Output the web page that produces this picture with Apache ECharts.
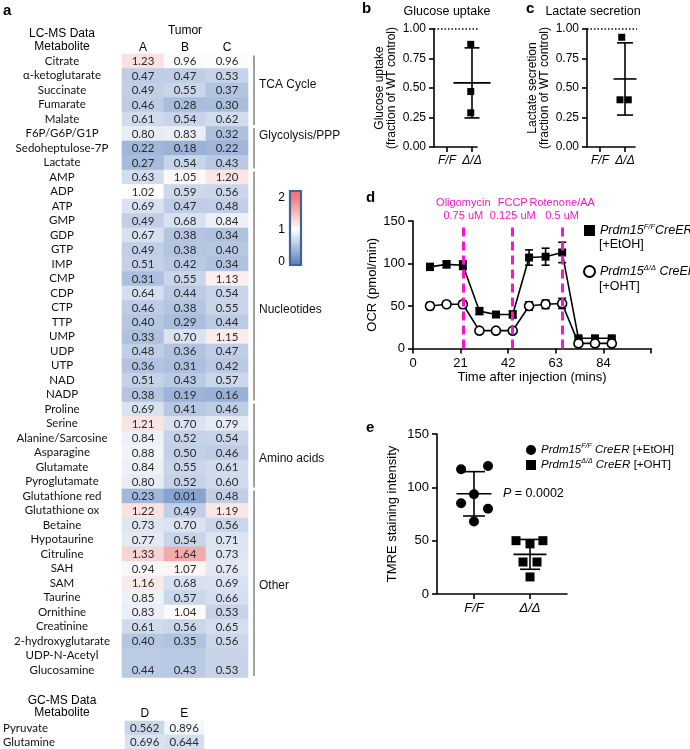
<!DOCTYPE html>
<html>
<head>
<meta charset="utf-8">
<script src="https://cdn.jsdelivr.net/npm/echarts@6/dist/echarts.min.js"></script>
<style>
  html, body { margin: 0; padding: 0; background: #fff; }
  #chart { width: 690px; height: 749px; }
</style>
</head>
<body>
<div id="chart"></div>
<script>
// ---- panel a: LC-MS heatmap ----
const metabolites = ['Citrate', 'α-ketoglutarate', 'Succinate', 'Fumarate', 'Malate',
  'F6P/G6P/G1P', 'Sedoheptulose-7P', 'Lactate',
  'AMP', 'ADP', 'ATP', 'GMP', 'GDP', 'GTP', 'IMP', 'CMP', 'CDP', 'CTP', 'TTP', 'UMP', 'UDP', 'UTP', 'NAD', 'NADP',
  'Proline', 'Serine', 'Alanine/Sarcosine', 'Asparagine', 'Glutamate', 'Pyroglutamate',
  'Glutathione red', 'Glutathione ox', 'Betaine', 'Hypotaurine', 'Citruline', 'SAH', 'SAM', 'Taurine',
  'Ornithine', 'Creatinine', '2-hydroxyglutarate', 'UDP-N-Acetyl', 'Glucosamine'];
const tumors = ['A', 'B', 'C'];
const tumorA = [1.23, 0.47, 0.49, 0.46, 0.61, 0.80, 0.22, 0.27, 0.63, 1.02, 0.69, 0.49, 0.67, 0.49, 0.51, 0.31,
  0.64, 0.46, 0.40, 0.33, 0.48, 0.36, 0.51, 0.38, 0.69, 1.21, 0.84, 0.88, 0.84, 0.80, 0.23, 1.22, 0.73, 0.77,
  1.33, 0.94, 1.16, 0.85, 0.83, 0.61, 0.40, null, 0.44];
const tumorB = [0.96, 0.47, 0.55, 0.28, 0.54, 0.83, 0.18, 0.54, 1.05, 0.59, 0.47, 0.68, 0.38, 0.38, 0.42, 0.55,
  0.44, 0.38, 0.29, 0.70, 0.36, 0.31, 0.43, 0.19, 0.41, 0.70, 0.52, 0.50, 0.55, 0.52, 0.01, 0.49, 0.70, 0.54,
  1.64, 1.07, 0.68, 0.57, 1.04, 0.56, 0.35, null, 0.43];
const tumorC = [0.96, 0.53, 0.37, 0.30, 0.62, 0.32, 0.22, 0.43, 1.20, 0.56, 0.48, 0.84, 0.34, 0.40, 0.34, 1.13,
  0.54, 0.55, 0.44, 1.15, 0.47, 0.42, 0.57, 0.16, 0.46, 0.79, 0.54, 0.46, 0.61, 0.60, 0.48, 1.19, 0.56, 0.71,
  0.73, 0.76, 0.69, 0.66, 0.53, 0.65, 0.56, null, 0.53];
const doubleRow = 'Glucosamine'; // cell spans the 'UDP-N-Acetyl' line above it

const groupNames = ['TCA Cycle', 'Glycolysis/PPP', 'Nucleotides', 'Amino acids', 'Other'];
const groupFirstRow = [0, 5, 8, 24, 30];
const groupLastRow = [4, 7, 23, 29, 42];
const groupLabelRow = [1.65, 5.1, 17.1, 27.4, 36.2];

const colorbarTicks = [0, 1, 2];

// GC-MS table
const gcMetabolites = ['Pyruvate', 'Glutamine'];
const gcSamples = ['D', 'E'];
const gcD = [0.562, 0.696];
const gcE = [0.896, 0.644];

// ---- panels b, c ----
const genotypes = ['F/F', 'Δ/Δ'];
const glucoseUptake = [0.87, 0.47, 0.29];
const glucoseX = [1.95, 1.95, 1.95];
const lactateSecretion = [0.93, 0.40, 0.40];
const lactateX = [1.87, 1.80, 2.13];

// ---- panel d: OCR ----
const ocrTime = [7.5, 14.8, 22, 29.3, 36.6, 44, 51.2, 58.5, 65.8, 73, 80.3, 87.7];
const ocrFF = [96, 99, 98, 44, 40, 40, 107, 108, 113, 12, 12, 12];
const ocrFFErr = [4, 4, 5, 4, 3, 4, 9, 10, 12, 2, 2, 2];
const ocrDD = [50, 52, 52, 21, 21, 21, 50, 52, 53, 6, 6, 6];
const ocrDDErr = [4, 3, 4, 2, 2, 2, 5, 5, 6, 1, 1, 1];
const injectionNames = ['Oligomycin\n0.75 uM', 'FCCP\n0.125 uM', 'Rotenone/AA\n0.5 uM'];
const injectionTime = [22.2, 44, 65.8];

// ---- panel e: TMRE ----
const tmreFF = [117, 120, 93.5, 85, 80, 68];
const tmreFFX = [0.77, 1.25, 1, 0.77, 1.25, 1];
const tmreDD = [50, 47, 50, 30, 30, 16];
const tmreDDX = [1.75, 2, 2.23, 1.875, 2.125, 2];

const FONT = '"Liberation Sans", Arial, sans-serif';
const CELL_FONT = 'Lato, "Open Sans", sans-serif';
const MAGENTA = '#ff12cc';

const mean = a => a.reduce((s, v) => s + v, 0) / a.length;
const sd = a => { const m = mean(a); return Math.sqrt(a.reduce((s, v) => s + (v - m) ** 2, 0) / (a.length - 1)); };
const meanSd = (x, a) => [x, mean(a), mean(a) - sd(a), mean(a) + sd(a)];

const lcCells = [];
[tumorA, tumorB, tumorC].forEach((vals, col) => {
  vals.forEach((v, row) => {
    if (v != null) lcCells.push([col, row, v, metabolites[row] === doubleRow ? 2 : 1]);
  });
});
const gcCells = [];
[gcD, gcE].forEach((vals, col) => vals.forEach((v, row) => gcCells.push([col, row, v, 1])));

function heatCell(digits) {
  return function (params, api) {
    const c = api.coord([api.value(0), api.value(1)]);
    const band = api.size([1, 1]);
    const span = api.value(3);
    const bottom = c[1] + band[1] / 2;
    const color = api.visual('color');
    return {
      type: 'group',
      children: [
        { type: 'rect', shape: { x: c[0] - band[0] / 2, y: bottom - band[1] * span, width: band[0], height: band[1] * span },
          style: { fill: color, stroke: color, lineWidth: 0.6 } },
        { type: 'text', x: c[0], y: c[1] + 0.5,
          style: { text: api.value(2).toFixed(digits), align: 'center', verticalAlign: 'middle',
                   fill: '#2b2b2b', fontSize: 11.5, fontFamily: CELL_FONT } }
      ]
    };
  };
}

function bracketItem(params, api) {
  const band = api.size([1, 1]);
  const top = api.coord([2, api.value(1)]);
  const bot = api.coord([2, api.value(2)]);
  const x = top[0] + band[0] / 2 + 6;
  const labelY = api.coord([2, 0])[1] + api.value(3) * band[1];
  return {
    type: 'group',
    children: [
      { type: 'line', shape: { x1: x, y1: top[1] - band[1] / 2 + 1.5, x2: x, y2: bot[1] + band[1] / 2 - 1.5 },
        style: { stroke: '#8a8a8a', lineWidth: 1.6 } },
      { type: 'text', x: x + 5, y: labelY,
        style: { text: groupNames[params.dataIndex], align: 'left', verticalAlign: 'middle',
                 fill: '#111', fontSize: 12, fontFamily: FONT } }
    ]
  };
}

function colorbarItem(params, api) {
  const cs = params.coordSys;
  const pos = v => (api.coord([0, v])[1] - cs.y) / cs.height;
  return {
    type: 'rect',
    shape: { x: cs.x, y: cs.y, width: cs.width, height: cs.height },
    style: {
      fill: new echarts.graphic.LinearGradient(0, 0, 0, 1, [
        { offset: Math.max(0, pos(2)), color: '#f47676' },
        { offset: pos(1), color: '#ffffff' },
        { offset: Math.min(1, pos(0)), color: '#6486bc' }
      ]),
      stroke: '#3f6497', lineWidth: 2.2
    }
  };
}

// vertical whisker [x, mid, lo, hi] with caps and optional mean line
function whisker(capHalf, meanHalf) {
  return function (params, api) {
    const x = api.value(0);
    const mid = api.coord([x, api.value(1)]);
    const lo = api.coord([x, api.value(2)]);
    const hi = api.coord([x, api.value(3)]);
    const style = { stroke: '#000', lineWidth: 1.6 };
    const children = [
      { type: 'line', shape: { x1: mid[0], y1: hi[1], x2: mid[0], y2: lo[1] }, style },
      { type: 'line', shape: { x1: mid[0] - capHalf, y1: hi[1], x2: mid[0] + capHalf, y2: hi[1] }, style },
      { type: 'line', shape: { x1: mid[0] - capHalf, y1: lo[1], x2: mid[0] + capHalf, y2: lo[1] }, style }
    ];
    if (meanHalf) {
      children.push({ type: 'line', shape: { x1: mid[0] - meanHalf, y1: mid[1], x2: mid[0] + meanHalf, y2: mid[1] }, style });
    }
    return { type: 'group', children };
  };
}

const axisBase = (fontSize) => ({
  axisLine: { show: true, lineStyle: { color: '#000', width: 1.6 } },
  axisTick: { show: true, length: 5, lineStyle: { color: '#000', width: 1.6 } },
  axisLabel: { color: '#000', fontFamily: FONT, fontSize },
  splitLine: { show: false }
});
const hiddenAxis = { axisLine: { show: false }, axisTick: { show: false }, splitLine: { show: false } };

const groupX = (gridIndex, min, max, fontSize) => ({
  gridIndex, type: 'value', min, max, ...axisBase(fontSize),
  axisTick: { show: true, length: 5, lineStyle: { color: '#000', width: 1.6 }, customValues: [1, 2] },
  axisLabel: { color: '#000', fontFamily: FONT, fontSize, fontStyle: 'italic', customValues: [1, 2],
               formatter: v => genotypes[Math.round(v) - 1] }
});

const sup = { fontFamily: FONT, fontStyle: 'italic', fontSize: 7.5, verticalAlign: 'top', color: '#000' };
const legendD = {
  dFF: '{i|Prdm15}{s|F/F}{i|CreER}',
  dDD: '{i|Prdm15}{s|Δ/Δ}{i| CreER}'
};
const legendE = {
  eFF: '{i|Prdm15}{s|F/F}{i| CreER} {n|[+EtOH]}',
  eDD: '{i|Prdm15}{s|Δ/Δ}{i| CreER} {n|[+OHT]}'
};
const solid = { color: '#000', opacity: 1 };

function label(text, x, y, opts = {}) {
  return {
    type: 'text', x, y, silent: true,
    style: Object.assign({
      text, fill: '#000', fontFamily: FONT, fontSize: 12,
      align: 'center', verticalAlign: 'middle', textAlign: 'center', textVerticalAlign: 'middle'
    }, opts)
  };
}
const letter = (t, x, y) => label(t, x, y, { fontWeight: 'bold', fontSize: 15, align: 'left', textAlign: 'left' });

const chart = echarts.init(document.getElementById('chart'));
chart.setOption({
  animation: false,
  backgroundColor: '#fff',
  grid: [
    { left: 122, top: 54, width: 126, height: 623.5 },
    { left: 290, top: 191, width: 11, height: 74 },
    { left: 124, top: 721, width: 80, height: 28 },
    { left: 434, top: 29, width: 43, height: 118 },
    { left: 587, top: 29, width: 48, height: 118 },
    { left: 413, top: 221, width: 238, height: 127.5 },
    { left: 437, top: 434, width: 130, height: 160 }
  ],
  visualMap: {
    show: false, type: 'continuous', min: 0, max: 2, dimension: 2, seriesIndex: [0, 2],
    inRange: { color: ['#86a2cf', '#ffffff', '#e97b7b'] }
  },
  xAxis: [
    { gridIndex: 0, type: 'category', data: tumors, position: 'top', ...hiddenAxis,
      axisLabel: { margin: 0, color: '#000', fontFamily: FONT, fontSize: 12 },
      name: 'Tumor', nameLocation: 'middle', nameGap: 6, nameTextStyle: { color: '#000', fontFamily: FONT, fontSize: 12 } },
    { gridIndex: 1, type: 'value', min: 0, max: 1, show: false },
    { gridIndex: 2, type: 'category', data: gcSamples, position: 'top', ...hiddenAxis,
      axisLabel: { margin: 1, color: '#000', fontFamily: FONT, fontSize: 12 } },
    groupX(3, 0.48, 2.2, 12),
    groupX(4, 0.48, 2.4, 12),
    { gridIndex: 5, type: 'value', min: 0, max: 105, interval: 21, ...axisBase(13),
      axisLabel: { color: '#000', fontFamily: FONT, fontSize: 13, formatter: v => (v === 105 ? '' : v) },
      name: 'Time after injection (mins)', nameLocation: 'middle', nameGap: 22,
      nameTextStyle: { color: '#000', fontFamily: FONT, fontSize: 13 } },
    groupX(6, 0.34, 2.66, 13)
  ],
  yAxis: [
    { gridIndex: 0, type: 'category', data: metabolites, inverse: true, ...hiddenAxis,
      axisLabel: { interval: 0, align: 'center', margin: 60, color: '#111', fontFamily: CELL_FONT, fontSize: 11.5 } },
    { gridIndex: 1, type: 'value', min: -0.1, max: 2.2, ...hiddenAxis,
      axisLabel: { customValues: colorbarTicks, margin: 5, color: '#000', fontFamily: FONT, fontSize: 12 } },
    { gridIndex: 2, type: 'category', data: gcMetabolites, inverse: true, ...hiddenAxis,
      axisLabel: { interval: 0, align: 'left', margin: 122, color: '#111', fontFamily: CELL_FONT, fontSize: 11.5 } },
    { gridIndex: 3, type: 'value', min: 0, max: 1, interval: 0.25, ...axisBase(12),
      axisLabel: { color: '#000', fontFamily: FONT, fontSize: 12, formatter: v => v.toFixed(2) },
      name: 'Glucose uptake\n(fraction of WT control)', nameLocation: 'middle', nameGap: 36,
      nameTextStyle: { color: '#000', fontFamily: FONT, fontSize: 12, lineHeight: 12 } },
    { gridIndex: 4, type: 'value', min: 0, max: 1, interval: 0.25, ...axisBase(12),
      axisLabel: { color: '#000', fontFamily: FONT, fontSize: 12, formatter: v => v.toFixed(2) },
      name: 'Lactate secretion\n(fraction of WT control)', nameLocation: 'middle', nameGap: 36,
      nameTextStyle: { color: '#000', fontFamily: FONT, fontSize: 12, lineHeight: 12 } },
    { gridIndex: 5, type: 'value', min: 0, max: 150, interval: 50, ...axisBase(13),
      name: 'OCR (pmol/min)', nameLocation: 'middle', nameGap: 33,
      nameTextStyle: { color: '#000', fontFamily: FONT, fontSize: 13 } },
    { gridIndex: 6, type: 'value', min: 0, max: 150, interval: 50, ...axisBase(13),
      name: 'TMRE staining intensity', nameLocation: 'middle', nameGap: 38,
      nameTextStyle: { color: '#000', fontFamily: FONT, fontSize: 13 } }
  ],
  legend: [
    { left: 578, top: 218, orient: 'vertical', itemWidth: 11, itemHeight: 11, itemGap: 27, selectedMode: false,
      data: [{ name: 'dFF', icon: 'rect' }, { name: 'dDD', icon: 'circle' }],
      formatter: n => legendD[n],
      textStyle: { rich: { i: { fontFamily: FONT, fontStyle: 'italic', fontSize: 12.5, color: '#000', lineHeight: 15 }, s: sup } } },
    { left: 521, top: 438, orient: 'vertical', itemWidth: 10, itemHeight: 10, itemGap: 2, selectedMode: false,
      data: [{ name: 'eFF', icon: 'circle' }, { name: 'eDD', icon: 'rect' }],
      formatter: n => legendE[n],
      textStyle: { rich: {
        i: { fontFamily: FONT, fontStyle: 'italic', fontSize: 11.5, color: '#000', lineHeight: 14 },
        n: { fontFamily: FONT, fontSize: 11.5, color: '#000', lineHeight: 14 },
        s: Object.assign({}, sup, { fontSize: 7 }) } } }
  ],
  graphic: [
    letter('a', 3, 11), letter('b', 362, 9), letter('c', 526, 9), letter('d', 366, 198), letter('e', 366, 428),
    label('LC-MS Data', 62, 34), label('Metabolite', 62, 47),
    label('GC-MS Data', 62, 701), label('Metabolite', 62, 713),
    label('Glucose uptake', 447, 12, { fontSize: 12.5 }),
    label('Lactate secretion', 593, 12, { fontSize: 12.5 }),
    label('[+EtOH]', 599, 245, { fontSize: 12.5, align: 'left', textAlign: 'left' }),
    label('[+OHT]', 599, 287, { fontSize: 12.5, align: 'left', textAlign: 'left' }),
    label('{i|P} = 0.0002', 503, 494, { fontSize: 12.5, align: 'left', textAlign: 'left',
      rich: { i: { fontStyle: 'italic', fontFamily: FONT, fontSize: 12.5 } } })
  ],
  series: [
    { type: 'custom', name: 'lcms', xAxisIndex: 0, yAxisIndex: 0, data: lcCells, renderItem: heatCell(2) },
    { type: 'custom', name: 'groups', xAxisIndex: 0, yAxisIndex: 0, silent: true,
      data: groupNames.map((n, i) => [2, groupFirstRow[i], groupLastRow[i], groupLabelRow[i]]), renderItem: bracketItem },
    { type: 'custom', name: 'gcms', xAxisIndex: 2, yAxisIndex: 2, data: gcCells, renderItem: heatCell(3) },
    { type: 'custom', name: 'colorbar', xAxisIndex: 1, yAxisIndex: 1, data: [[0, 1]], renderItem: colorbarItem },

    // b
    { type: 'line', xAxisIndex: 3, yAxisIndex: 3, data: [[0.48, 1], [2.6, 1]], symbol: 'none', clip: false,
      lineStyle: { type: [1.5, 2], color: '#000', width: 1.3 } },
    { type: 'custom', xAxisIndex: 3, yAxisIndex: 3, data: [meanSd(2, glucoseUptake)], renderItem: whisker(7.5, 18.5) },
    { type: 'scatter', xAxisIndex: 3, yAxisIndex: 3, symbol: 'rect', symbolSize: 7,
      itemStyle: solid, data: glucoseUptake.map((v, i) => [glucoseX[i], v]) },
    // c
    { type: 'line', xAxisIndex: 4, yAxisIndex: 4, data: [[0.48, 1], [2.5, 1]], symbol: 'none', clip: false,
      lineStyle: { type: [1.5, 2], color: '#000', width: 1.3 } },
    { type: 'custom', xAxisIndex: 4, yAxisIndex: 4, data: [meanSd(2, lactateSecretion)], renderItem: whisker(8, 11.5) },
    { type: 'scatter', xAxisIndex: 4, yAxisIndex: 4, symbol: 'rect', symbolSize: 7,
      itemStyle: solid, data: lactateSecretion.map((v, i) => [lactateX[i], v]) },

    // d
    { type: 'custom', xAxisIndex: 5, yAxisIndex: 5, renderItem: whisker(4, 0),
      data: ocrTime.map((t, i) => [t, ocrFF[i], ocrFF[i] - ocrFFErr[i], ocrFF[i] + ocrFFErr[i]]) },
    { type: 'custom', xAxisIndex: 5, yAxisIndex: 5, renderItem: whisker(4, 0),
      data: ocrTime.map((t, i) => [t, ocrDD[i], ocrDD[i] - ocrDDErr[i], ocrDD[i] + ocrDDErr[i]]) },
    { type: 'line', name: 'dFF', xAxisIndex: 5, yAxisIndex: 5, symbol: 'rect', symbolSize: 8,
      itemStyle: { color: '#000' }, lineStyle: { color: '#000', width: 1.6 },
      data: ocrTime.map((t, i) => [t, ocrFF[i]]) },
    { type: 'line', name: 'dDD', xAxisIndex: 5, yAxisIndex: 5, symbol: 'circle', symbolSize: 9,
      itemStyle: { color: '#fff', borderColor: '#000', borderWidth: 1.6 }, lineStyle: { color: '#000', width: 1.6 },
      data: ocrTime.map((t, i) => [t, ocrDD[i]]),
      markLine: {
        silent: true, symbol: ['none', 'none'],
        lineStyle: { color: MAGENTA, width: 3, type: [9, 5] },
        label: { show: true, position: 'end', distance: 3, color: MAGENTA, fontFamily: FONT, fontSize: 11, lineHeight: 13,
                 formatter: p => injectionNames[injectionTime.indexOf(p.data.coord[0])] },
        data: injectionTime.map(t => [{ coord: [t, 0] }, { coord: [t, 145] }])
      } },

    // e
    { type: 'custom', xAxisIndex: 6, yAxisIndex: 6, data: [meanSd(1, tmreFF)], renderItem: whisker(11, 17.5) },
    { type: 'custom', xAxisIndex: 6, yAxisIndex: 6, data: [meanSd(2, tmreDD)], renderItem: whisker(10, 16.5) },
    { type: 'scatter', name: 'eFF', xAxisIndex: 6, yAxisIndex: 6, symbol: 'circle', symbolSize: 10,
      itemStyle: solid, data: tmreFF.map((v, i) => [tmreFFX[i], v]) },
    { type: 'scatter', name: 'eDD', xAxisIndex: 6, yAxisIndex: 6, symbol: 'rect', symbolSize: 9,
      itemStyle: solid, data: tmreDD.map((v, i) => [tmreDDX[i], v]) }
  ]
});

window.addEventListener('resize', () => chart.resize());
</script>
</body>
</html>
